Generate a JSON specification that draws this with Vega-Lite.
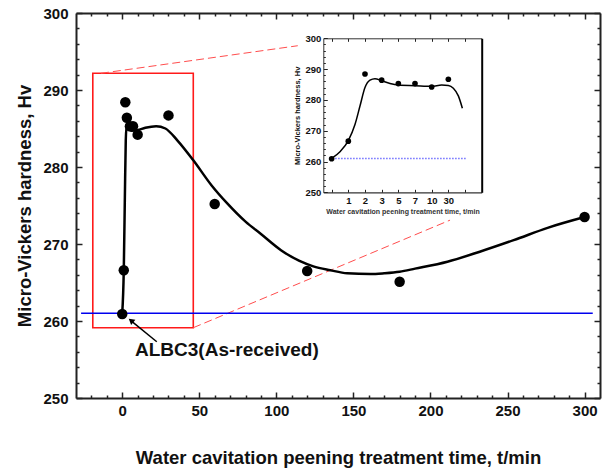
{
  "$schema": "https://vega.github.io/schema/vega-lite/v6.json",
  "width": 524,
  "height": 385,
  "autosize": {"type": "none"},
  "padding": {"left": 76, "top": 13, "right": 4, "bottom": 73},
  "background": "white",
  "config": {
    "view": {"stroke": null},
    "font": "Liberation Sans",
    "axis": {"grid": false, "labelFont": "Liberation Sans", "titleFont": "Liberation Sans", "labelFontWeight": "bold", "titleFontWeight": "bold", "labelColor": "#111", "titleColor": "#111", "domainColor": "#222", "tickColor": "#222", "labelFlush": false, "labelOverlap": false}
  },
  "datasets": {
    "pts": [
      {"t": 0, "hv": 260.9, "step": 0},
      {"t": 1, "hv": 266.6, "step": 1},
      {"t": 2, "hv": 288.4, "step": 2},
      {"t": 3, "hv": 286.4, "step": 3},
      {"t": 5, "hv": 285.3, "step": 4},
      {"t": 7, "hv": 285.3, "step": 5},
      {"t": 10, "hv": 284.2, "step": 6},
      {"t": 30, "hv": 286.7, "step": 7},
      {"t": 60, "hv": 275.2},
      {"t": 120, "hv": 266.5},
      {"t": 180, "hv": 265.1},
      {"t": 300, "hv": 273.5}
    ],
    "fit": [
      {"t": 0, "hv": 261}, {"t": 1, "hv": 266.6}, {"t": 1.7, "hv": 276}, {"t": 2.3, "hv": 283.5},
      {"t": 2.8, "hv": 285.3}, {"t": 4, "hv": 285.0}, {"t": 6, "hv": 284.7}, {"t": 10, "hv": 284.8},
      {"t": 15, "hv": 285.1}, {"t": 22, "hv": 285.3}, {"t": 28, "hv": 285.0}, {"t": 36, "hv": 283.4},
      {"t": 46, "hv": 280.9}, {"t": 58, "hv": 277.6}, {"t": 68, "hv": 275.3}, {"t": 80, "hv": 272.9},
      {"t": 90, "hv": 271.3}, {"t": 103, "hv": 269.2}, {"t": 115, "hv": 267.8}, {"t": 124, "hv": 267.1},
      {"t": 135, "hv": 266.6}, {"t": 146, "hv": 266.2}, {"t": 161, "hv": 266.1}, {"t": 170, "hv": 266.2},
      {"t": 180, "hv": 266.4}, {"t": 190, "hv": 266.8}, {"t": 211, "hv": 267.7}, {"t": 232, "hv": 269.0},
      {"t": 254, "hv": 270.5}, {"t": 276, "hv": 272.1}, {"t": 300, "hv": 273.5}
    ],
    "fit_inset": [
      {"step": 0, "hv": 261}, {"step": 0.5, "hv": 263.2}, {"step": 1, "hv": 266.8}, {"step": 1.4, "hv": 272},
      {"step": 1.7, "hv": 278}, {"step": 2, "hv": 284}, {"step": 2.3, "hv": 286.4}, {"step": 2.6, "hv": 286.9},
      {"step": 3, "hv": 286.2}, {"step": 3.5, "hv": 285.3}, {"step": 4, "hv": 284.8}, {"step": 5, "hv": 284.6},
      {"step": 6, "hv": 284.4}, {"step": 6.6, "hv": 284.8}, {"step": 7, "hv": 284.7}, {"step": 7.3, "hv": 283.8},
      {"step": 7.6, "hv": 281.3}, {"step": 7.84, "hv": 277.3}
    ]
  },
  "layer": [
    {
      "layer": [
        {
          "data": {"values": [{}]},
          "mark": {"type": "rect", "fillOpacity": 0, "stroke": "#ff1a1a", "strokeWidth": 1.6},
          "encoding": {
            "x": {"datum": -19.1, "type": "quantitative", "scale": {"domain": [-30, 310], "nice": false, "zero": false},
                  "axis": {"orient": "top", "values": [0, 50, 100, 150, 200, 250, 300], "tickSize": -6, "tickWidth": 1.5, "domainWidth": 2, "labels": false, "title": null}},
            "x2": {"datum": 46.1},
            "y": {"datum": 292.17, "type": "quantitative", "scale": {"domain": [250, 300], "nice": false, "zero": false},
                  "axis": {"orient": "right", "values": [250, 260, 270, 280, 290, 300], "tickSize": -6, "tickWidth": 1.5, "domainWidth": 2, "labels": false, "title": null}},
            "y2": {"datum": 259.13}
          }
        },
        {
          "data": {"values": [{}]},
          "mark": {"type": "rule", "color": "#ff4d4d", "strokeWidth": 1, "strokeDash": [8, 4]},
          "encoding": {
            "x": {"datum": -13.8, "type": "quantitative", "scale": {"domain": [-30, 310], "nice": false, "zero": false}, "axis": null},
            "x2": {"datum": 113.9},
            "y": {"datum": 292.17, "type": "quantitative", "scale": {"domain": [250, 300], "nice": false, "zero": false}, "axis": null},
            "y2": {"datum": 295.75}
          }
        },
        {
          "data": {"values": [{}]},
          "mark": {"type": "rule", "color": "#ff4d4d", "strokeWidth": 1, "strokeDash": [8, 4]},
          "encoding": {
            "x": {"datum": 46.1, "type": "quantitative", "scale": {"domain": [-30, 310], "nice": false, "zero": false}, "axis": null},
            "x2": {"datum": 212.7},
            "y": {"datum": 259.13, "type": "quantitative", "scale": {"domain": [250, 300], "nice": false, "zero": false}, "axis": null},
            "y2": {"datum": 273.1}
          }
        },
        {
          "data": {"values": [{}]},
          "mark": {"type": "rule", "color": "#0000ee", "strokeWidth": 1.5},
          "encoding": {
            "x": {"datum": -26.7, "type": "quantitative", "scale": {"domain": [-30, 310], "nice": false, "zero": false},
                  "axis": {"orient": "top", "values": [-20, -10, 10, 20, 30, 40, 60, 70, 80, 90, 110, 120, 130, 140, 160, 170, 180, 190, 210, 220, 230, 240, 260, 270, 280, 290], "tickSize": -3, "tickWidth": 1.5, "domain": false, "labels": false, "title": null}},
            "x2": {"datum": 305.3},
            "y": {"datum": 261, "type": "quantitative", "scale": {"domain": [250, 300], "nice": false, "zero": false},
                  "axis": {"orient": "right", "values": [252, 254, 256, 258, 262, 264, 266, 268, 272, 274, 276, 278, 282, 284, 286, 288, 292, 294, 296, 298], "tickSize": -3, "tickWidth": 1.5, "domain": false, "labels": false, "title": null}}
          }
        },
        {
          "data": {"name": "fit"},
          "mark": {"type": "line", "interpolate": "monotone", "color": "#000", "strokeWidth": 2.5},
          "encoding": {
            "x": {"field": "t", "type": "quantitative", "scale": {"domain": [-30, 310], "nice": false, "zero": false},
                  "axis": {"orient": "bottom", "values": [-20, -10, 10, 20, 30, 40, 60, 70, 80, 90, 110, 120, 130, 140, 160, 170, 180, 190, 210, 220, 230, 240, 260, 270, 280, 290], "tickSize": -3, "tickWidth": 1.5, "domain": false, "labels": false, "title": null}},
            "y": {"field": "hv", "type": "quantitative", "scale": {"domain": [250, 300], "nice": false, "zero": false},
                  "axis": {"orient": "left", "values": [252, 254, 256, 258, 262, 264, 266, 268, 272, 274, 276, 278, 282, 284, 286, 288, 292, 294, 296, 298], "tickSize": -3, "tickWidth": 1.5, "domain": false, "labels": false, "title": null}}
          }
        },
        {
          "data": {"name": "pts"},
          "mark": {"type": "circle", "size": 110, "color": "#000", "opacity": 1},
          "encoding": {
            "x": {"field": "t", "type": "quantitative", "scale": {"domain": [-30, 310], "nice": false, "zero": false},
                  "axis": {"orient": "bottom", "values": [0, 50, 100, 150, 200, 250, 300], "tickSize": -6, "tickWidth": 1.5, "domainWidth": 2, "labelFontSize": 15, "labelPadding": 11, "title": "Water cavitation peening treatment time, t/min", "titleFontSize": 18.5, "titlePadding": 30}},
            "y": {"field": "hv", "type": "quantitative", "scale": {"domain": [250, 300], "nice": false, "zero": false},
                  "axis": {"orient": "left", "values": [250, 260, 270, 280, 290, 300], "tickSize": -6, "tickWidth": 1.5, "domainWidth": 2, "labelFontSize": 15, "labelPadding": 14, "title": "Micro-Vickers hardness, Hv", "titleFontSize": 18.5, "titlePadding": 8}}
          }
        },
        {
          "data": {"values": [{}]},
          "mark": {"type": "rule", "color": "#000", "strokeWidth": 1.5},
          "encoding": {
            "x": {"datum": 22.4, "type": "quantitative", "scale": {"domain": [-30, 310], "nice": false, "zero": false}, "axis": null},
            "x2": {"datum": 6.2},
            "y": {"datum": 257.3, "type": "quantitative", "scale": {"domain": [250, 300], "nice": false, "zero": false}, "axis": null},
            "y2": {"datum": 259.95}
          }
        },
        {
          "data": {"values": [{}]},
          "mark": {"type": "point", "shape": "triangle-up", "filled": true, "color": "#000", "opacity": 1, "size": 45, "angle": -50.5},
          "encoding": {
            "x": {"datum": 5.7, "type": "quantitative", "scale": {"domain": [-30, 310], "nice": false, "zero": false}, "axis": null},
            "y": {"datum": 260.06, "type": "quantitative", "scale": {"domain": [250, 300], "nice": false, "zero": false}, "axis": null}
          }
        },
        {
          "data": {"values": [{}]},
          "mark": {"type": "text", "text": "ALBC3(As-received)", "font": "Liberation Sans", "fontWeight": "bold", "fontSize": 19, "align": "left", "baseline": "alphabetic", "color": "#111"},
          "encoding": {
            "x": {"datum": 8.3, "type": "quantitative", "scale": {"domain": [-30, 310], "nice": false, "zero": false}, "axis": null},
            "y": {"datum": 255.45, "type": "quantitative", "scale": {"domain": [250, 300], "nice": false, "zero": false}, "axis": null}
          }
        }
      ],
      "resolve": {"axis": {"x": "independent", "y": "independent"}}
    },
    {
      "layer": [
        {
          "data": {"values": [{}]},
          "mark": {"type": "rule", "color": "#7070ff", "strokeWidth": 1.5, "strokeDash": [1.5, 1.5]},
          "encoding": {
            "x": {"datum": -0.15, "type": "quantitative", "scale": {"domain": [-0.5, 9], "range": [247.3, 405.7], "nice": false, "zero": false}, "axis": null},
            "x2": {"datum": 8.05},
            "y": {"datum": 261, "type": "quantitative", "scale": {"domain": [250, 300], "range": [179.3, 25.3], "nice": false, "zero": false},
                  "axis": {"orient": "right", "offset": -118.3, "ticks": false, "labels": false, "domainWidth": 2, "domainColor": "#000", "title": null}}
          }
        },
        {
          "data": {"name": "fit_inset"},
          "mark": {"type": "line", "interpolate": "monotone", "color": "#000", "strokeWidth": 1.5},
          "encoding": {
            "x": {"field": "step", "type": "quantitative", "scale": {"domain": [-0.5, 9], "range": [247.3, 405.7], "nice": false, "zero": false},
                  "axis": {"orient": "top", "offset": -25.3, "values": [0, 1, 2, 3, 4, 5, 6, 7, 8], "tickSize": -3, "tickWidth": 1, "domainWidth": 1, "domainColor": "#333", "labels": false, "title": null}},
            "y": {"field": "hv", "type": "quantitative", "scale": {"domain": [250, 300], "range": [179.3, 25.3], "nice": false, "zero": false},
                  "axis": {"orient": "left", "offset": -247.3, "values": [252, 254, 256, 258, 262, 264, 266, 268, 272, 274, 276, 278, 282, 284, 286, 288, 292, 294, 296, 298], "tickSize": -2, "tickWidth": 1, "domain": false, "labels": false, "title": null}}
          }
        },
        {
          "data": {"name": "pts"},
          "transform": [{"filter": {"field": "step", "valid": true}}],
          "mark": {"type": "circle", "size": 32, "color": "#000", "opacity": 1},
          "encoding": {
            "x": {"field": "step", "type": "quantitative", "scale": {"domain": [-0.5, 9], "range": [247.3, 405.7], "nice": false, "zero": false},
                  "axis": {"orient": "bottom", "offset": -205.7, "values": [0, 1, 2, 3, 4, 5, 6, 7, 8], "labelExpr": "['','1','2','3','5','7','10','30',''][datum.value]", "tickSize": -3, "tickWidth": 1, "domainWidth": 1.2, "domainColor": "#333", "labelFontSize": 9.5, "labelPadding": 6, "title": "Water cavitation peening treatment time, t/min", "titleFontSize": 7, "titleColor": "#333", "titlePadding": 3}},
            "y": {"field": "hv", "type": "quantitative", "scale": {"domain": [250, 300], "range": [179.3, 25.3], "nice": false, "zero": false},
                  "axis": {"orient": "left", "offset": -247.3, "values": [250, 260, 270, 280, 290, 300], "tickSize": -4, "tickWidth": 1, "domainWidth": 1, "domainColor": "#333", "labelFontSize": 9.5, "labelPadding": 6.5, "title": "Micro-Vickers hardness, Hv", "titleFontSize": 7.5, "titlePadding": 3}}
          }
        }
      ],
      "resolve": {"axis": {"x": "independent", "y": "independent"}}
    }
  ],
  "resolve": {"scale": {"x": "independent", "y": "independent"}, "axis": {"x": "independent", "y": "independent"}}
}
